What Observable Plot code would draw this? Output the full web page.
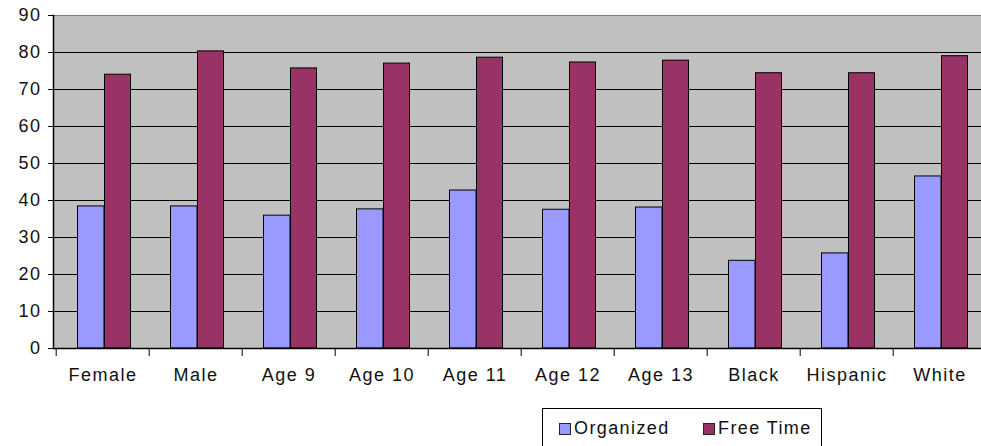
<!DOCTYPE html>
<html>
<head>
<meta charset="utf-8">
<script src="https://cdn.jsdelivr.net/npm/d3@7"></script>
<script src="https://cdn.jsdelivr.net/npm/@observablehq/plot@0.6"></script>
<style>
  html, body { margin: 0; padding: 0; background: #fff; overflow: hidden; }
  #wrap { position: relative; width: 981px; height: 446px; font-family: "Liberation Sans", Arial, sans-serif; }
  #wrap svg text { letter-spacing: 1.5px; }
  #legend { position: absolute; left: 542px; top: 408px; width: 278px; height: 44px; border: 1px solid #000; background: #fff; font-size: 18px; letter-spacing: 1.4px; color: #111; }
  .item { position: absolute; top: 9px; display: flex; align-items: center; }
  .sw { width: 10px; height: 10px; border: 1px solid #222; margin-right: 3px; }
</style>
</head>
<body>
<div id="wrap"></div>
<script>
const categories = ["Female","Male","Age 9","Age 10","Age 11","Age 12","Age 13","Black","Hispanic","White"];
const organized = [38.4,38.4,35.9,37.6,42.7,37.5,38.1,23.7,25.7,46.5];
const freeTime = [74.0,80.3,75.7,77.0,78.6,77.3,77.8,74.4,74.4,79.0];
const seriesNames = ["Organized","Free Time"];
const seriesColors = ["#9999ff","#993366"];
const yTicks = [0,10,20,30,40,50,60,70,80,90];
const gridTicks = [10,20,30,40,50,60,70,80];

const orgData = categories.map((c,i) => ({category: c, value: organized[i]}));
const ftData = categories.map((c,i) => ({category: c, value: freeTime[i]}));

const chart = Plot.plot({
  width: 981,
  height: 400,
  marginLeft: 53,
  marginRight: -8,
  marginTop: 15,
  marginBottom: 52,
  style: {fontFamily: '"Liberation Sans", Arial, sans-serif', fontSize: "18px", color: "#111", background: "transparent", overflow: "visible"},
  x: {domain: categories, padding: 0, axis: null, label: null},
  y: {domain: [0, 90], axis: null, label: null},
  marks: [
    Plot.frame({fill: "#c0c0c0", stroke: "#808080"}),
    Plot.ruleY(gridTicks, {stroke: "#000", strokeWidth: 1}),
    Plot.barY(orgData, {x: "category", y: "value", fill: seriesColors[0], stroke: "#000", strokeWidth: 1, insetLeft: 21.5, insetRight: 45}),
    Plot.barY(ftData, {x: "category", y: "value", fill: seriesColors[1], stroke: "#000", strokeWidth: 1, insetLeft: 48.5, insetRight: 18.5}),
    Plot.ruleY([0], {stroke: "#000", strokeWidth: 1.5}),
    Plot.frame({anchor: "left", stroke: "#000", strokeWidth: 1.5}),
    Plot.axisY({ticks: yTicks, tickSize: 5, tickPadding: 7, tickFormat: d => String(d), fontSize: 18, stroke: "#000", label: null}),
    Plot.axisX({tickSize: 8, text: null, dx: -46.8, stroke: "#000", label: null}),
    Plot.axisX({tickSize: 0, tickPadding: 20, fontSize: 18, label: null})
  ]
});
document.getElementById("wrap").appendChild(chart);

const legend = document.createElement("div");
legend.id = "legend";
const lefts = [16, 160];
seriesNames.forEach((name, i) => {
  const it = document.createElement("div");
  it.className = "item";
  it.style.left = lefts[i] + "px";
  const sw = document.createElement("div");
  sw.className = "sw";
  sw.style.background = seriesColors[i];
  const t = document.createElement("span");
  t.textContent = name;
  it.appendChild(sw); it.appendChild(t);
  legend.appendChild(it);
});
document.getElementById("wrap").appendChild(legend);
</script>
</body>
</html>
